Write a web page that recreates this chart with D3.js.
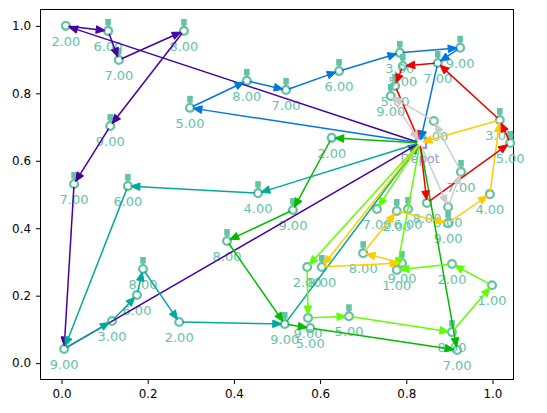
<!DOCTYPE html>
<html>
<head>
<meta charset="utf-8">
<script src="https://cdn.jsdelivr.net/npm/d3@7"></script>
<style>
  body { margin: 0; background: #fff; }
  svg text { font-family: "DejaVu Sans", sans-serif; }
</style>
</head>
<body>
<svg id="chart" width="547" height="413"></svg>
<script>
// depot location
const depot = [0.832, 0.653];

// customer locations, labels and whether a bar sits on the marker
const nodeX = [0.010, 0.108, 0.133, 0.284, 0.113, 0.029, 0.006,
  0.298, 0.430, 0.521, 0.644, 0.785, 0.925, 0.873,
  0.848, 1.041, 1.017, 0.792, 0.774, 0.764,
  0.897, 0.927, 0.864,
  0.604, 0.790, 0.700, 0.778, 0.897, 0.994,
  0.456, 0.154, 0.117, 0.175, 0.189, 0.273, 0.518,
  0.627, 0.537, 0.384, 0.577, 0.918,
  0.570, 0.572, 0.667, 0.906, 0.999, 0.906, 0.778, 0.732, 0.804];
const nodeY = [1.000, 0.985, 0.899, 0.985, 0.703, 0.531, 0.042,
  0.757, 0.837, 0.810, 0.866, 0.920, 0.935, 0.890,
  0.475, 0.653, 0.721, 0.881, 0.822, 0.792,
  0.463, 0.567, 0.718,
  0.285, 0.297, 0.326, 0.451, 0.415, 0.501,
  0.504, 0.525, 0.125, 0.202, 0.279, 0.122, 0.116,
  0.668, 0.454, 0.362, 0.104, 0.039,
  0.285, 0.134, 0.139, 0.092, 0.231, 0.294, 0.276, 0.457, 0.457];
const nodeLabel = [2, 6, 7, 8, 9, 7, 9,
  5, 8, 7, 6, 3, 9, 7,
  8, 5, 3, 5, 5, 9,
  3, 7, 4,
  8, 9, 8, 2, 9, 4,
  4, 6, 3, 6, 8, 2, 9,
  2, 9, 8, 5, 7,
  2, 9, 5, 8, 1, 2, 1, 7, 6];
const nodeBar = [0, 1, 1, 1, 1, 1, 0,
  1, 1, 1, 1, 1, 1, 1,
  0, 1, 1, 1, 1, 1,
  0, 1, 0,
  1, 1, 1, 1, 1, 0,
  1, 1, 0, 0, 1, 0, 1,
  0, 1, 1, 0, 0,
  0, 0, 1, 1, 0, 0, 0, 0, 1];

// vehicle paths, -1 = depot
const routes = [
  [-1, 0, 1, 2, 3, 4, 5, 6, -1],
  [-1, 7, 8, 9, 10, 11, 12, 13, -1],
  [-1, 29, 30, 6, 31, 32, 33, 34, 35, -1],
  [-1, 36, 37, 38, 35, 39, 40], [-1, 40],
  [-1, 41, 42, 43, 44, 45, 46, 47], [-1, 47], [-1, 48],
  [-1, 23, 24, 25, 26, 27, 28, 16, -1],
  [-1, 14, 15, 16, 13, 17, 18, -1],
  [-1, 20, 21, 22, 19, -1]
];
const routeColors = ['#4400a1', '#0077dd', '#00aa99', '#00bb00', '#00bb00',
  '#5eff00', '#5eff00', '#5eff00', '#ffcc00', '#ee0000', '#cccccc'];

const xTicks = [0, 0.2, 0.4, 0.6, 0.8, 1.0];
const yTicks = [0, 0.2, 0.4, 0.6, 0.8, 1.0];

const nodeColor = '#66c2a5';
const depotColor = '#8da0cb';

const svg = d3.select('#chart');
const x = d3.scaleLinear().domain([-0.05, 1.05]).range([40, 514]);
const y = d3.scaleLinear().domain([-0.05, 1.05]).range([380, 9]);

// axes
const gx = svg.append('g')
  .attr('transform', 'translate(0,380)')
  .call(d3.axisBottom(x).tickValues(xTicks).tickFormat(d3.format('.1f')).tickSize(4).tickPadding(6));
const gy = svg.append('g')
  .attr('transform', 'translate(40,0)')
  .call(d3.axisLeft(y).tickValues(yTicks).tickFormat(d3.format('.1f')).tickSize(4).tickPadding(5));
[gx, gy].forEach(g => {
  g.select('.domain').remove();
  g.selectAll('text').attr('font-size', '11.9px').attr('fill', '#000')
    .attr('font-family', '"DejaVu Sans", sans-serif');
  g.selectAll('line').attr('stroke', '#000');
});

svg.append('rect')
  .attr('x', 40.5).attr('y', 9.5).attr('width', 473).attr('height', 370)
  .attr('fill', 'none').attr('stroke', '#000').attr('stroke-width', 1);

// customers
const idx = d3.range(nodeX.length);
const nodes = svg.append('g');
nodes.selectAll('rect.bar')
  .data(idx.filter(i => nodeBar[i]))
  .enter().append('rect')
    .attr('class', 'bar')
    .attr('x', i => x(nodeX[i]) - 2.8)
    .attr('y', i => y(nodeY[i]) - 12)
    .attr('width', 5.6).attr('height', 6.5)
    .attr('fill', nodeColor);
nodes.selectAll('rect.neck')
  .data(idx.filter(i => nodeBar[i]))
  .enter().append('rect')
    .attr('class', 'neck')
    .attr('x', i => x(nodeX[i]) - 1.3)
    .attr('y', i => y(nodeY[i]) - 6)
    .attr('width', 2.6).attr('height', 2.5)
    .attr('fill', nodeColor);
nodes.selectAll('circle')
  .data(idx)
  .enter().append('circle')
    .attr('cx', i => x(nodeX[i]))
    .attr('cy', i => y(nodeY[i]))
    .attr('r', 3.9)
    .attr('fill', 'none')
    .attr('stroke', nodeColor)
    .attr('stroke-width', 2.3);
nodes.selectAll('text')
  .data(idx)
  .enter().append('text')
    .attr('x', i => x(nodeX[i]))
    .attr('y', i => y(nodeY[i]) + 15.5)
    .attr('dy', '0.36em')
    .attr('text-anchor', 'middle')
    .attr('font-size', '13px')
    .attr('fill', nodeColor)
    .text(i => d3.format('.2f')(nodeLabel[i]));

// depot
svg.append('rect')
  .attr('x', x(depot[0]) - 4).attr('y', y(depot[1]) - 5)
  .attr('width', 10).attr('height', 10)
  .attr('fill', 'none').attr('stroke', depotColor).attr('stroke-width', 2.3);
svg.append('text')
  .attr('x', x(depot[0])).attr('y', y(depot[1]) + 15.5)
  .attr('dy', '0.36em')
  .attr('text-anchor', 'middle')
  .attr('font-size', '13px')
  .attr('fill', depotColor)
  .text('Depot');

// route arrows
const pos = k => k < 0 ? [x(depot[0]), y(depot[1])] : [x(nodeX[k]), y(nodeY[k])];
const arrows = svg.append('g');
routes.forEach((r, ri) => {
  const col = routeColors[ri];
  d3.pairs(r).forEach(([a, b]) => {
    const p0 = pos(a), p1 = pos(b);
    const dx = p1[0] - p0[0], dy = p1[1] - p0[1];
    const len = Math.hypot(dx, dy);
    const ux = dx / len, uy = dy / len;
    const s = [p0[0] + ux * 3, p0[1] + uy * 3];
    const tip = [p1[0] - ux * 3, p1[1] - uy * 3];
    const base = [tip[0] - ux * 9, tip[1] - uy * 9];
    arrows.append('line')
      .attr('x1', s[0]).attr('y1', s[1])
      .attr('x2', base[0]).attr('y2', base[1])
      .attr('stroke', col).attr('stroke-width', 1.5);
    arrows.append('path')
      .attr('d', d3.line()([tip,
        [base[0] - uy * 3.8, base[1] + ux * 3.8],
        [base[0] + uy * 3.8, base[1] - ux * 3.8]]) + 'Z')
      .attr('fill', col).attr('stroke', col).attr('stroke-width', 1);
  });
});
</script>
</body>
</html>
